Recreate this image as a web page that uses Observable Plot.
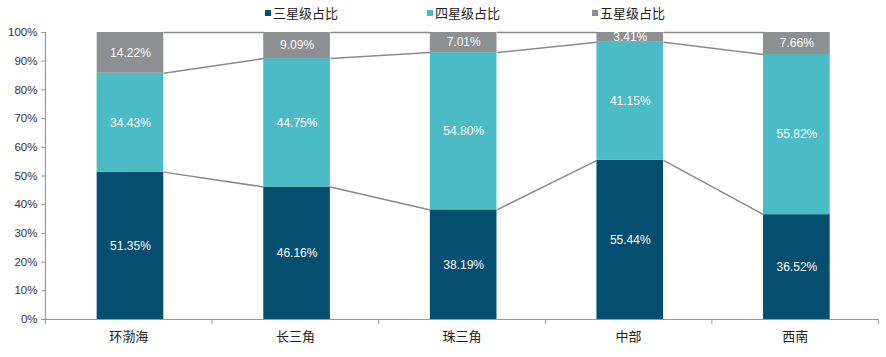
<!DOCTYPE html>
<html>
<head>
<meta charset="utf-8">
<script src="https://cdn.jsdelivr.net/npm/d3@7"></script>
<script src="https://cdn.jsdelivr.net/npm/@observablehq/plot@0.6"></script>
<style>
  html, body { margin: 0; padding: 0; background: #fff; }
  #legend { position: relative; height: 24px; font-family: "Noto Sans CJK SC", sans-serif; font-size: 13px; color: #222; }
  .item { position: absolute; top: 3px; display: flex; align-items: center; white-space: nowrap; }
  .sw { width: 6px; height: 6px; margin-right: 2px; }
</style>
</head>
<body>
<div id="legend"></div>
<div id="chart"></div>
<script>
const categories = ["环渤海", "长三角", "珠三角", "中部", "西南"];
const seriesNames = ["三星级占比", "四星级占比", "五星级占比"];
const threeStar = [51.35, 46.16, 38.19, 55.44, 36.52];
const fourStar  = [34.43, 44.75, 54.80, 41.15, 55.82];
const fiveStar  = [14.22, 9.09, 7.01, 3.41, 7.66];
const yTickValues = [0, 10, 20, 30, 40, 50, 60, 70, 80, 90, 100];
const colors = ["#044f6f", "#4bbbc5", "#8d9092"];

const seriesValues = [threeStar, fourStar, fiveStar];
const half = 0.2; // half bar width in category units

const segs = [];
categories.forEach((c, i) => {
  let lo = 0;
  seriesValues.forEach((vals, s) => {
    const hi = lo + vals[i];
    segs.push({i, series: seriesNames[s], lo, hi, mid: (lo + hi) / 2, value: vals[i]});
    lo = hi;
  });
});

const links = [];
for (let s = 0; s < seriesValues.length; s++) {
  const cum = categories.map((c, i) => seriesValues.slice(0, s + 1).reduce((a, v) => a + v[i], 0));
  for (let i = 0; i < categories.length - 1; i++) {
    links.push({x1: i + half, y1: cum[i], x2: i + 1 - half, y2: cum[i + 1]});
  }
}

const legend = document.getElementById("legend");
const legendLeft = [265, 427, 592];
seriesNames.forEach((n, s) => {
  const it = document.createElement("div");
  it.className = "item";
  it.style.left = legendLeft[s] + "px";
  it.innerHTML = `<span class="sw" style="background:${colors[s]}"></span><span>${n}</span>`;
  legend.appendChild(it);
});

const boundaries = d3.range(-0.5, categories.length, 1);

const chart = Plot.plot({
  width: 886,
  height: 333,
  marginLeft: 45,
  marginRight: 8,
  marginTop: 8,
  marginBottom: 38,
  style: {fontFamily: "'Liberation Sans', Arial, sans-serif", fontSize: "11px", color: "#333", background: "#fff"},
  x: {type: "linear", domain: [-0.5, categories.length - 0.5]},
  y: {domain: [0, 100]},
  color: {domain: seriesNames, range: colors},
  marks: [
    Plot.rect(segs, {x1: d => d.i - half + 0.01, x2: d => d.i + half + 0.01, y1: "lo", y2: "hi", fill: "series"}),
    Plot.link(links, {x1: d => d.x1 + 0.01, y1: "y1", x2: d => d.x2 + 0.01, y2: "y2", stroke: "#8a8a8a", strokeWidth: 1.5}),
    Plot.text(segs, {x: d => d.i + 0.01, y: "mid", text: d => d.value.toFixed(2) + "%", fill: "white",
      fontFamily: "'Liberation Sans', Arial, sans-serif", fontSize: 12, letterSpacing: 0.3}),
    Plot.ruleY([0], {stroke: "#999", strokeWidth: 1.2}),
    Plot.ruleX([-0.5], {stroke: "#999", strokeWidth: 1.2}),
    Plot.axisY({ticks: yTickValues, tickFormat: d => d + "%", tickSize: 4, tickPadding: 4, stroke: "#999", label: null, fontSize: 11.5}),
    Plot.axisX({ticks: boundaries, tickFormat: () => "", tickSize: 5, stroke: "#999", label: null}),
    Plot.axisX({ticks: d3.range(categories.length), tickFormat: i => categories[i], tickSize: 0, tickPadding: 12, label: null,
      fontFamily: "'Noto Sans CJK SC', sans-serif", fontSize: 13, fill: "#222"})
  ]
});
document.getElementById("chart").appendChild(chart);
</script>
</body>
</html>
